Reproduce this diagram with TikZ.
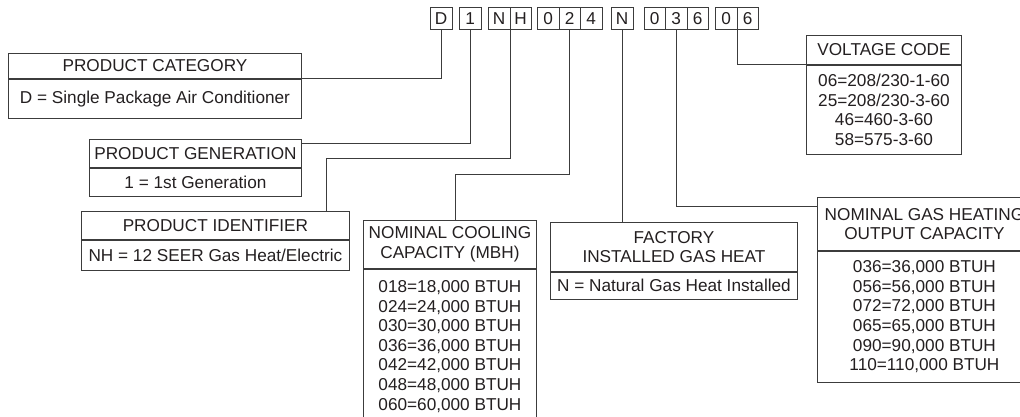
\documentclass[tikz,border=0pt]{standalone}
\usepackage{fontspec}
\setmainfont{Liberation Sans}
\definecolor{ink}{HTML}{231F20}
\definecolor{rule}{HTML}{3C3C3C}
\tikzstyle{cell}=[draw=rule, minimum width=21.5pt, minimum height=22pt, inner sep=0pt, anchor=north west]
\tikzstyle{head}=[draw=rule, inner sep=0pt, align=center, anchor=north west]
\tikzstyle{body}=[draw=rule, inner sep=0pt, align=center, anchor=north west]

\begin{document}
\begin{tikzpicture}
        [x=1pt,y=-1pt,text=ink,draw=rule,line width=.9pt,font=\fontsize{17.2}{19.6}\selectfont]
            \path[use as bounding box, clip] (0,0) rectangle (1020,417);
            % model number cells
            \node [cell] (d) at (430,7) {D};
            \node [cell] (g) at (459,7) {1};
            \node [cell] (n) at (488,7) {N};
            \node [cell] (h) at (509.5,7) {H};
            \node [cell] (ca) at (537,7) {0};
            \node [cell] (cb) at (558.5,7) {2};
            \node [cell] (cc) at (580,7) {4};
            \node [cell] (f) at (611,7) {N};
            \node [cell] (ha) at (643.5,7) {0};
            \node [cell] (hb) at (665,7) {3};
            \node [cell] (hc) at (686.5,7) {6};
            \node [cell] (va) at (715,7) {0};
            \node [cell] (vb) at (736.5,7) {6};
            % boxes
            \node [head, minimum width=293pt, minimum height=25pt] (cat) at (8,53) {PRODUCT CATEGORY};
            \node [body, minimum width=293pt, minimum height=39pt] (catv) at (cat.south west) {D = Single Package Air Conditioner};
            \node [head, minimum width=212pt, minimum height=28pt] (gen) at (89,139) {PRODUCT GENERATION};
            \node [body, minimum width=212pt, minimum height=28pt] (genv) at (gen.south west) {1 = 1st Generation};
            \node [head, minimum width=268pt, minimum height=28pt] (ident) at (81,211) {PRODUCT IDENTIFIER};
            \node [body, minimum width=268pt, minimum height=30pt] (identv) at (ident.south west) {NH = 12 SEER Gas Heat/Electric};
            \node [head, minimum width=173pt, minimum height=48pt] (cool) at (363,220) {NOMINAL COOLING\\CAPACITY (MBH)};
            \node [body, minimum width=173pt, minimum height=154pt] (coolv) at (cool.south west) {018=18,000 BTUH\\024=24,000 BTUH\\030=30,000 BTUH\\036=36,000 BTUH\\042=42,000 BTUH\\048=48,000 BTUH\\060=60,000 BTUH};
            \node [head, minimum width=247pt, minimum height=49pt] (fact) at (550,222) {FACTORY\\INSTALLED GAS HEAT};
            \node [body, minimum width=247pt, minimum height=27pt] (factv) at (fact.south west) {N = Natural Gas Heat Installed};
            \node [head, minimum width=214pt, minimum height=53pt] (heat) at (817,197) {NOMINAL GAS HEATING\\OUTPUT CAPACITY};
            \node [body, minimum width=214pt, minimum height=131pt] (heatv) at (heat.south west) {036=36,000 BTUH\\056=56,000 BTUH\\072=72,000 BTUH\\065=65,000 BTUH\\090=90,000 BTUH\\110=110,000 BTUH};
            \node [head, minimum width=155pt, minimum height=29pt] (volt) at (806,35) {VOLTAGE CODE};
            \node [body, minimum width=155pt, minimum height=89pt] (voltv) at (volt.south west) {06=208/230-1-60\\25=208/230-3-60\\46=460-3-60\\58=575-3-60};
            % leaders
            \coordinate (nhk) at (326,158);
            \coordinate (cbk) at (455,174);
            \draw (d.south) |- (cat.south east);
            \draw (g.south) |- ([yshift=-4pt]gen.north east);
            \draw (n.south east) |- (nhk) -- (nhk |- ident.north);
            \draw (cb.south) |- (cbk) -- (cbk |- cool.north);
            \draw (f.south) -- (f.south |- fact.north);
            \draw (hb.south) |- ([yshift=-9pt]heat.north west);
            \draw (va.south east) |- (volt.south west);
        \end{tikzpicture}
\end{document}
